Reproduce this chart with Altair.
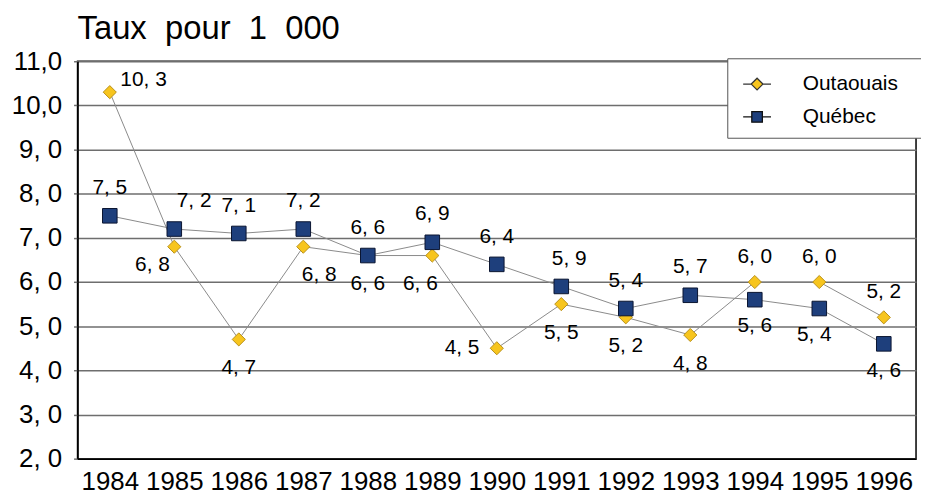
import altair as alt
import pandas as pd

years = [1984, 1985, 1986, 1987, 1988, 1989, 1990, 1991, 1992, 1993, 1994, 1995, 1996]
outaouais = [10.3, 6.8, 4.7, 6.8, 6.6, 6.6, 4.5, 5.5, 5.2, 4.8, 6.0, 6.0, 5.2]
quebec = [7.5, 7.2, 7.1, 7.2, 6.6, 6.9, 6.4, 5.9, 5.4, 5.7, 5.6, 5.4, 4.6]
series = ["Outaouais", "Québec"]
y_ticks = [2, 3, 4, 5, 6, 7, 8, 9, 10, 11]
title_text = "Taux\u00a0 pour\u00a0 1\u00a0 000"

rows = []
for yr, o, q in zip(years, outaouais, quebec):
    rows.append({"year": yr, "serie": series[0], "value": o, "other": q})
    rows.append({"year": yr, "serie": series[1], "value": q, "other": o})
df = pd.DataFrame(rows)

FONT = "Liberation Sans"
PX_X = 844 / 13.0
PX_Y = 400 / 9.0
GOLD, GOLD_EDGE = "#F7C51E", "#B8901A"
NAVY, NAVY_EDGE = "#1E3F7C", "#0A1530"

x_enc = alt.X("year:Q", scale=alt.Scale(domain=[1983.5, 1996.5], nice=False, zero=False),
              axis=alt.Axis(values=years, format="d", title=None, grid=False, ticks=False,
                            labelFontSize=26, labelFont=FONT, labelColor="black",
                            labelPadding=10, domainColor="black", domainWidth=1.5,
                            labelFlush=False))
y_enc = alt.Y("value:Q", scale=alt.Scale(domain=[2, 11], nice=False, zero=False),
              axis=alt.Axis(values=y_ticks, title=None, grid=True, gridColor="#6e6e6e",
                            gridWidth=1.5, tickSize=4, tickColor="#6e6e6e", tickWidth=1.5,
                            labelFontSize=26, labelFont=FONT, labelColor="black", labelPadding=12,
                            domainColor="black", domainWidth=1.5,
                            labelExpr="datum.value >= 10 ? replace(format(datum.value, '.1f'), '.', ',') : replace(format(datum.value, '.1f'), '.', ', ')"))

base = alt.Chart(df)

lines = base.mark_line(color="#8a8a8a", strokeWidth=1).encode(
    x=x_enc, y=y_enc, detail="serie:N")

pts_o = base.transform_filter(alt.datum.serie == series[0]).mark_point(
    filled=True, opacity=1, shape="diamond", size=175, color=GOLD, stroke=GOLD_EDGE, strokeWidth=1
).encode(x=x_enc, y=y_enc)
pts_q = base.transform_filter(alt.datum.serie == series[1]).mark_point(
    filled=True, opacity=1, shape="square", size=215, color=NAVY, stroke=NAVY_EDGE, strokeWidth=1
).encode(x=x_enc, y=y_enc)

legend_cfg = dict(title="\u2800", titleOrient="right", titleFontSize=17,
                  titleFont="DejaVu Sans", titlePadding=0, titleColor="white",
                  orient="none", legendX=654, legendY=-3,
                  labelFont=FONT, labelFontSize=21, labelColor="black",
                  fillColor="white", strokeColor="#555555", padding=11,
                  symbolSize=784, symbolOffset=4, labelOffset=31, rowPadding=8,
                  symbolStrokeWidth=1.3, symbolOpacity=1)

legend_layer = base.transform_filter("false").mark_point(filled=False, opacity=0).encode(
    x=x_enc, y=y_enc,
    fill=alt.Fill("serie:N", scale=alt.Scale(domain=series, range=[GOLD, NAVY]),
                  legend=alt.Legend(**legend_cfg)),
    stroke=alt.Stroke("serie:N", scale=alt.Scale(domain=series, range=["#333333", "#111111"]),
                      legend=alt.Legend(**legend_cfg)),
    shape=alt.Shape("serie:N", scale=alt.Scale(
        domain=series,
        range=["M-1,0H-0.42M0.42,0H1M0,-0.42L0.42,0L0,0.42L-0.42,0Z",
               "M-1,0H-0.38M0.38,0H1M-0.38,-0.38H0.38V0.38H-0.38Z"]),
        legend=alt.Legend(**legend_cfg)),
)

dx_expr = (
    "datum.serie == 'Outaouais' ? (datum.year == 1984 ? 34 : datum.year == 1990 ? -35 : "
    "datum.year == 1985 ? -22 : datum.year == 1987 ? 16 : datum.year == 1989 ? -12 : 0) : "
    "(datum.year == 1985 ? 20 : datum.year == 1991 ? 8 : datum.year == 1995 ? -5 : 0)"
)
dy_expr = (
    "datum.serie == 'Outaouais' ? (datum.year == 1984 ? -12 : datum.year == 1990 ? 0 : "
    "datum.year == 1985 ? 18 : datum.value > datum.other ? -25 : 29) : "
    "(datum.value >= datum.other || datum.year == 1984 ? -28 : 27)"
)

labels = base.transform_calculate(
    dxp=dx_expr, dyp=dy_expr
).transform_calculate(
    lx=f"datum.year + datum.dxp / {PX_X}",
    ly=f"datum.value - datum.dyp / {PX_Y}",
    txt="replace(format(datum.value, '.1f'), '.', ', ')",
).mark_text(font=FONT, fontSize=21, color="black", baseline="middle", align="center").encode(
    x=alt.X("lx:Q"), y=alt.Y("ly:Q"), text="txt:N")

chart = alt.layer(lines, pts_o, pts_q, labels, legend_layer).properties(
    width=844, height=400,
    title=alt.TitleParams(title_text, anchor="start", frame="group", fontSize=33,
                          font=FONT, fontWeight="normal", color="black", offset=2),
    autosize=alt.AutoSizeParams(type="none"),
    padding={"left": 70, "top": 52, "right": 5, "bottom": 36},
).configure_view(stroke="black", strokeWidth=1.5)

chart.save("out.html", embed_options={"renderer": "svg", "actions": False})
